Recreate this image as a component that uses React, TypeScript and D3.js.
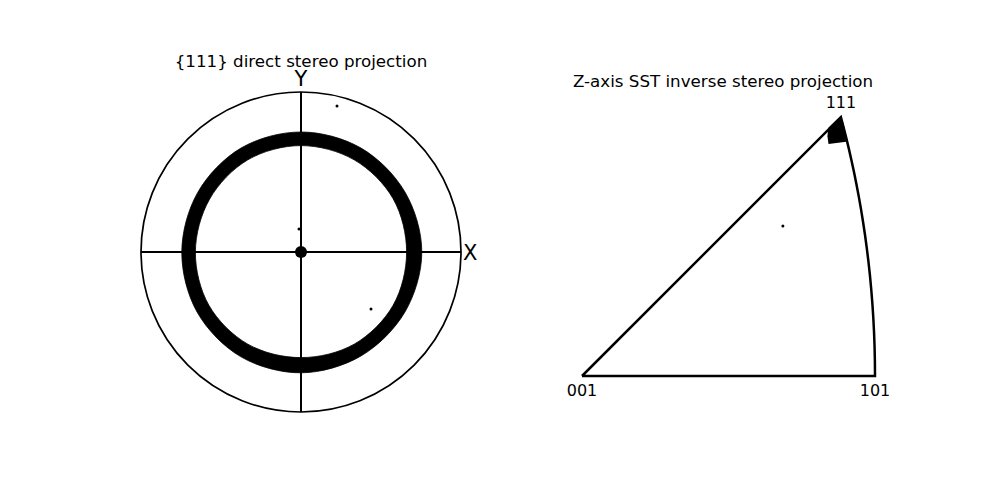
import { useEffect, useRef } from "react";
import * as d3 from "d3";

// direct {111} pole figure: ring edges, sampled every 30 degrees (unit circle coords)
const ringAngles = [0, 30, 60, 90, 120, 150, 180, 210, 240, 270, 300, 330];
const ringInner = [0.66, 0.665, 0.665, 0.665, 0.665, 0.66, 0.66, 0.665, 0.665, 0.66, 0.665, 0.665];
const ringOuter = [0.755, 0.75, 0.75, 0.75, 0.75, 0.745, 0.745, 0.75, 0.755, 0.755, 0.75, 0.75];
const strayPoles = [[0.225, 0.9125], [-0.0125, 0.144], [0.4375, -0.356]];
const centrePole = [0, 0];

// inverse pole figure (stereographic x, y)
const clusterOutline = [[0.366, 0.368], [0.348, 0.3506], [0.347, 0.339], [0.3485, 0.328], [0.3735, 0.331], [0.3704, 0.3548]];
const strayIpf = [[0.284, 0.212]];
const cornerLabels = ["001", "101", "111"];

const W = 1000;
const H = 500;

export default function App() {
  const ref = useRef(null);

  useEffect(() => {
    const svg = d3.select(ref.current);
    svg.selectAll("*").remove();
    const font = "DejaVu Sans, sans-serif";

    // ---------- left: direct projection ----------
    const cx = 301, cy = 252, R = 160;
    const xs = d3.scaleLinear([-1, 1], [cx - R, cx + R]);
    const ys = d3.scaleLinear([-1, 1], [cy + R, cy - R]);
    const rs = d3.scaleLinear([0, 1], [0, R]);

    const left = svg.append("g");

    const ring = d3.areaRadial()
      .angle((d, i) => Math.PI / 2 - (ringAngles[i] * Math.PI) / 180)
      .innerRadius((d, i) => rs(ringInner[i]))
      .outerRadius((d, i) => rs(ringOuter[i]))
      .curve(d3.curveCardinalClosed);

    left.append("path")
      .attr("transform", `translate(${cx},${cy})`)
      .attr("d", ring(ringAngles))
      .attr("fill", "black")
      .attr("stroke", "black").attr("stroke-width", 0.8);

    left.append("circle")
      .attr("cx", xs(0)).attr("cy", ys(0)).attr("r", rs(1))
      .attr("fill", "none").attr("stroke", "black").attr("stroke-width", 1.7);

    left.append("line")
      .attr("x1", xs(-1)).attr("x2", xs(1)).attr("y1", ys(0)).attr("y2", ys(0))
      .attr("stroke", "black").attr("stroke-width", 2);
    left.append("line")
      .attr("x1", xs(0)).attr("x2", xs(0)).attr("y1", ys(-1)).attr("y2", ys(1))
      .attr("stroke", "black").attr("stroke-width", 2);

    left.selectAll(".stray")
      .data(strayPoles)
      .join("circle")
      .attr("cx", d => xs(d[0])).attr("cy", d => ys(d[1])).attr("r", 1.5)
      .attr("fill", "black");

    left.append("circle")
      .attr("cx", xs(centrePole[0])).attr("cy", ys(centrePole[1])).attr("r", 6)
      .attr("fill", "black");

    left.append("text")
      .attr("x", xs(1) + 2).attr("y", ys(0) + 8)
      .attr("font-family", font).attr("font-size", 21)
      .text("X");
    left.append("text")
      .attr("x", xs(0)).attr("y", ys(1) - 6)
      .attr("text-anchor", "middle")
      .attr("font-family", font).attr("font-size", 21)
      .text("Y");

    left.append("text")
      .attr("x", cx).attr("y", 67)
      .attr("text-anchor", "middle")
      .attr("font-family", font).attr("font-size", 16.7)
      .text("{111} direct stereo projection");

    // ---------- right: inverse SST ----------
    const t101 = Math.tan(Math.PI / 8);
    const ox = 582, oy = 376;
    const sx = d3.scaleLinear([0, t101], [ox, 875]);
    const k = sx(t101) - sx(0);
    const sy = d3.scaleLinear([0, t101], [oy, oy - k]);

    // boundary arc 101 -> 111 : directions [1, t, 1]
    const arcPts = d3.range(0, 1.0001, 0.05).map(t => {
      const n = Math.sqrt(2 + t * t);
      return [1 / (n + 1), t / (n + 1)];
    });
    const p111 = arcPts[arcPts.length - 1];
    const tri = [[0, 0], [t101, 0], ...arcPts, [0, 0]];

    const right = svg.append("g");
    const line = d3.line().x(d => sx(d[0])).y(d => sy(d[1]));

    right.append("path")
      .attr("d", line(clusterOutline) + "Z")
      .attr("fill", "black");

    right.append("path")
      .attr("d", line(tri))
      .attr("fill", "none").attr("stroke", "black").attr("stroke-width", 2.5)
      .attr("stroke-linejoin", "miter");

    right.selectAll(".stray")
      .data(strayIpf)
      .join("circle")
      .attr("cx", d => sx(d[0])).attr("cy", d => sy(d[1])).attr("r", 1.5)
      .attr("fill", "black");

    const labelPos = [[0, 0], [t101, 0], p111];
    right.selectAll(".corner")
      .data(cornerLabels)
      .join("text")
      .attr("x", (d, i) => sx(labelPos[i][0]))
      .attr("y", (d, i) => (i < 2 ? sy(labelPos[i][1]) + 20 : sy(labelPos[i][1]) - 9))
      .attr("text-anchor", "middle")
      .attr("font-family", font).attr("font-size", 16)
      .text(d => d);

    right.append("text")
      .attr("x", 723).attr("y", 87)
      .attr("text-anchor", "middle")
      .attr("font-family", font).attr("font-size", 16.7)
      .text("Z-axis SST inverse stereo projection");
  }, []);

  return (
    <svg ref={ref} width={W} height={H} style={{ display: "block", margin: -8, background: "white" }} />
  );
}
